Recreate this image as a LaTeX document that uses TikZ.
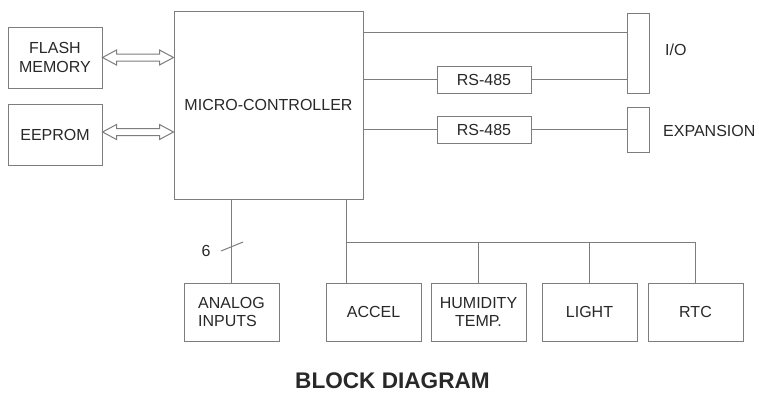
\documentclass[tikz,border=0pt]{standalone}
\usepackage{fontspec}
\setmainfont{Liberation Sans}
\usetikzlibrary{calc}
\definecolor{ln}{RGB}{125,125,125}
\definecolor{tx}{RGB}{40,40,40}
\newcommand\mydblarrow[2]{%
  \draw[arrowline] (#1) -- ++(14,-7.5) -- ++(0,4) -- ($(#2)+(-14,-3.5)$) -- ++(0,-4) -- (#2)
    -- ++(-14,7.5) -- ++(0,-4) -- ($(#1)+(14,3.5)$) -- ++(0,4) -- cycle;}
\begin{document}
\begin{tikzpicture}[x=1pt,y=-1pt,
  blk/.style={draw=ln,line width=1pt,inner sep=0pt,fill=white,text=tx,align=center,
    font=\fontsize{16}{18.5}\selectfont},
  lbl/.style={inner sep=0pt,text=tx,font=\fontsize{16}{18.5}\selectfont},
  wire/.style={draw=ln,line width=1pt},
  arrowline/.style={draw=ln,line width=1pt,fill=white,line join=miter}]
\useasboundingbox (0,0) rectangle (759,394);
% blocks
\node[blk,minimum width=94,minimum height=61] (flash) at (55,57.5) {FLASH\\MEMORY};
\node[blk,minimum width=94,minimum height=61] (eeprom) at (55,134.5) {EEPROM};
\node[blk,minimum width=189,minimum height=188] (mcu) at (268.5,105) {MICRO-CONTROLLER};
\node[blk,minimum width=22,minimum height=80] (io) at (638,53) {};
\node[blk,minimum width=22,minimum height=45] (exp) at (638,129.5) {};
\node[blk,minimum width=94,minimum height=27] (rs1) at (484,79.5) {RS-485};
\node[blk,minimum width=94,minimum height=27] (rs2) at (484,129.5) {RS-485};
\node[blk,minimum width=95,minimum height=58,align=left] (analog) at (231.5,312) {ANALOG\\INPUTS};
\node[blk,minimum width=95,minimum height=58] (accel) at (373.5,312) {ACCEL};
\node[blk,minimum width=95,minimum height=58] (hum) at (478.5,312) {HUMIDITY\\TEMP.};
\node[blk,minimum width=95,minimum height=58] (light) at (589.5,312) {LIGHT};
\node[blk,minimum width=95,minimum height=58] (rtc) at (695.5,312) {RTC};
% labels
\node[lbl,anchor=base west] (iolbl) at (665,55) {I/O};
\node[lbl,anchor=base west] (explbl) at (663,136) {EXPANSION};
\node[lbl] (six) at (206,251) {6};
\node[inner sep=0pt,text=tx,font=\fontsize{22.6}{24}\selectfont\bfseries,anchor=base] (title) at (392.5,388.5) {BLOCK DIAGRAM};
% memory buses
\mydblarrow{flash.east}{mcu.west |- flash.east}
\mydblarrow{$(eeprom.east)+(0,-2.5)$}{$(mcu.west |- eeprom.east)+(0,-2.5)$}
% right side
\coordinate (r1) at (0,32);
\draw[wire] (r1 -| mcu.east) -- (r1 -| io.west);
\draw[wire] (mcu.east |- rs1.west) -- (rs1.west);
\draw[wire] (rs1.east) -- (io.west |- rs1.east);
\draw[wire] (mcu.east |- rs2.west) -- (rs2.west);
\draw[wire] (rs2.east) -- (exp.west |- rs2.east);
% analog
\draw[wire] (analog.north |- mcu.south) -- (analog.north);
\coordinate (sl) at (232,246.5);
\draw[wire] ($(sl)+(-11,4.5)$) -- ($(sl)+(11,-4.5)$);
% sensor bus
\coordinate (bus) at (346,242);
\draw[wire] (bus |- mcu.south) -- (bus |- accel.north);
\draw[wire] (bus) -- (bus -| rtc.north) -- (rtc.north);
\draw[wire] (hum.north |- bus) -- (hum.north);
\draw[wire] (light.north |- bus) -- (light.north);
\end{tikzpicture}
\end{document}
